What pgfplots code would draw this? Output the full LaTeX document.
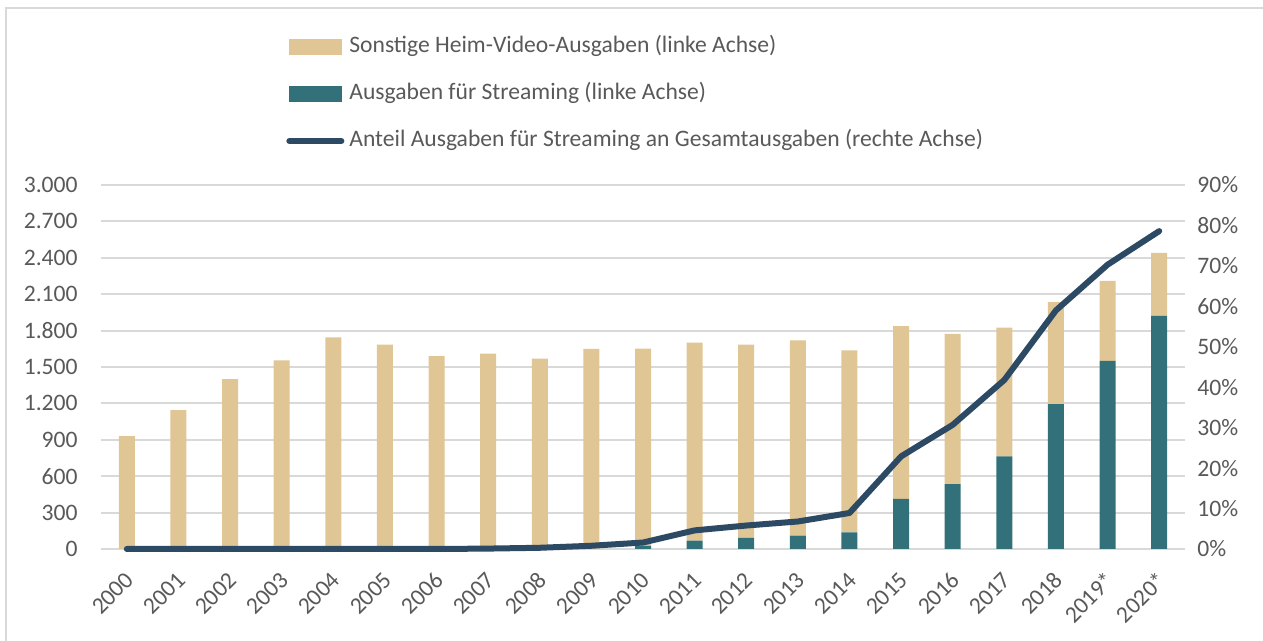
\documentclass[border=0pt]{standalone}
\usepackage{pgfplots}
\pgfplotsset{compat=1.18}
\usepackage{fontspec}
\setmainfont{Carlito}

\definecolor{sonst}{HTML}{E0C595}
\definecolor{stream}{HTML}{32717A}
\definecolor{anteil}{HTML}{2D4A65}
\definecolor{txt}{HTML}{595959}
\definecolor{gridc}{HTML}{D9D9D9}

\newcommand{\lblfont}{\fontsize{11.8}{14}\selectfont}

\begin{document}
\begin{tikzpicture}[x=1pt,y=1pt]
\useasboundingbox (-50.5,-46) rectangle (581,274.5);
\draw[gridc, line width=1pt] (-47.25,-46) -- (-47.25,270.5) -- (581,270.5);

\begin{axis}[
  at={(0,0)}, anchor=south west,
  width=542pt, height=182pt, scale only axis,
  xmin=-0.5, xmax=20.5, ymin=0, ymax=3000,
  ybar stacked, bar width=8pt,
  xtick={0,...,20},
  xticklabels={2000,2001,2002,2003,2004,2005,2006,2007,2008,2009,2010,2011,2012,2013,2014,2015,2016,2017,2018,2019*,2020*},
  ytick={0,300,...,3000},
  ymajorgrids, grid style={gridc, line width=1pt},
  axis line style={draw=none}, major tick length=0pt,
  tick label style={font=\lblfont, text=txt},
  yticklabel style={anchor=east, inner sep=0pt, xshift=-11.5pt},
  xticklabel style={inner sep=0pt, xshift=1.5pt, yshift=-13.5pt, rotate=45, anchor=east},
  /pgf/number format/.cd, 1000 sep={.}, assume math mode=true,
]
% Ausgaben fuer Streaming
\addplot[fill=stream, draw=none] coordinates {
  (0,0) (1,0) (2,0) (3,0) (4,0) (5,0) (6,0) (7,0) (8,0) (9,0)
  (10,25) (11,69) (12,91) (13,110) (14,138) (15,413) (16,534)
  (17,763) (18,1195) (19,1550) (20,1921)};
% Sonstige Heim-Video-Ausgaben
\addplot[fill=sonst, draw=none] coordinates {
  (0,930) (1,1145) (2,1400) (3,1555) (4,1745) (5,1685) (6,1590)
  (7,1610) (8,1570) (9,1650) (10,1626) (11,1632) (12,1594) (13,1610)
  (14,1500) (15,1423) (16,1238) (17,1061) (18,839) (19,660) (20,519)};
\end{axis}

\begin{axis}[
  at={(0,0)}, anchor=south west,
  width=542pt, height=182pt, scale only axis,
  xmin=-0.5, xmax=20.5, ymin=0, ymax=90,
  axis x line=none, axis y line*=right,
  axis line style={draw=none}, major tick length=0pt,
  ytick={0,10,...,90},
  yticklabel={\pgfmathprintnumber{\tick}\%},
  tick label style={font=\lblfont, text=txt},
  yticklabel style={anchor=west, inner sep=0pt, xshift=6pt},
  /pgf/number format/assume math mode=true,
  clip=false,
  legend cell align=left,
  legend style={draw=none, fill=none, font=\lblfont, text=txt,
    at={(0.1651,1.42)}, anchor=north west,
    row sep=13pt, column sep=2.5pt,
    nodes={inner sep=0pt, text height=8pt, text depth=2.5pt}},
]
\addlegendimage{legend image code/.code={\fill[sonst] (0pt,-3.75pt) rectangle (26pt,3.75pt);}}
\addlegendentry{Sonstige Heim-Video-Ausgaben (linke Achse)}
\addlegendimage{legend image code/.code={\fill[stream] (0pt,-3.75pt) rectangle (26pt,3.75pt);}}
\addlegendentry{Ausgaben für Streaming (linke Achse)}
\addplot[anteil, line width=3pt, line cap=round, line join=round,
  legend image code/.code={\draw[anteil, line width=3pt, line cap=round] (0pt,0pt) -- (26pt,0pt);}]
  coordinates {
  (0,0) (1,0) (2,0) (3,0) (4,0) (5,0) (6,0) (7,0.1) (8,0.3) (9,0.8)
  (10,1.6) (11,4.6) (12,5.8) (13,6.8) (14,8.9) (15,22.9) (16,30.7)
  (17,41.8) (18,59.0) (19,70.3) (20,78.6)};
\addlegendentry{Anteil Ausgaben für Streaming an Gesamtausgaben (rechte Achse)}
\end{axis}
\end{tikzpicture}
\end{document}
